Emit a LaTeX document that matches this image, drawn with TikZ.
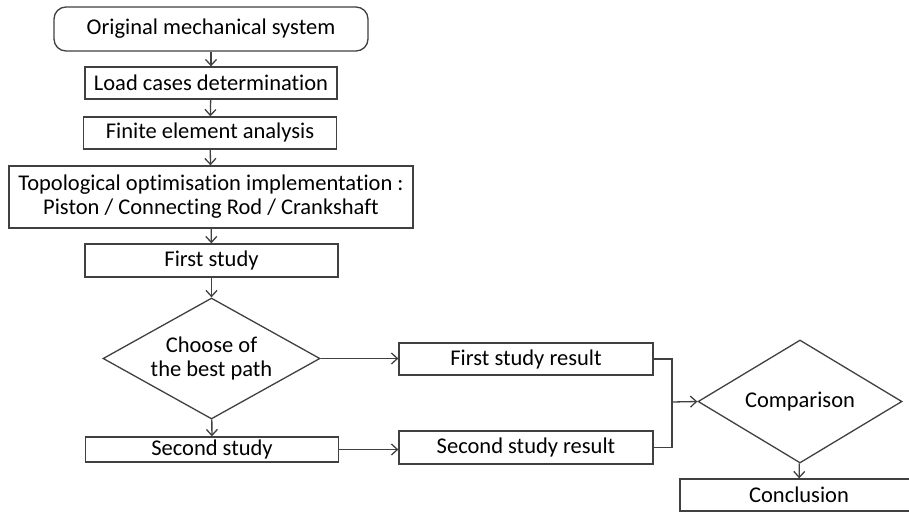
\documentclass[tikz,border=0pt]{standalone}
\usepackage{fontspec}
\setmainfont{Carlito}[Ligatures=NoCommon]
\usetikzlibrary{shapes.geometric,arrows.meta}
\definecolor{linegray}{HTML}{404040}
\tikzset{
  box/.style={draw=linegray, line width=1.3pt, fill=white, rectangle, inner sep=0pt, align=center, font=\fontsize{22.5}{24}\selectfont},
  decision/.style={draw=linegray, line width=1.3pt, fill=white, diamond, inner sep=0pt, align=center, font=\fontsize{22.5}{24}\selectfont},
  conn/.style={draw=linegray, line width=1.3pt},
  arr/.style={conn, -{Straight Barb[length=6pt,width=11pt,line width=1.3pt]}}
}
\begin{document}
\begin{tikzpicture}[x=1pt,y=-1pt]
\useasboundingbox (0,0) rectangle (909,513);
\begin{scope}
\clip (0,0) rectangle (909,513);
\node[box, rounded corners=12pt, minimum width=314pt, minimum height=44pt] (orig) at (211,29) {Original mechanical system};
\node[box, minimum width=252pt, minimum height=32pt] (load) at (211,83) {Load cases determination};
\node[box, minimum width=253pt, minimum height=32pt] (fea) at (210,133) {Finite element analysis};
\node[box, minimum width=404pt, minimum height=62pt] (topo) at (211,197) {Topological optimisation implementation :\\Piston / Connecting Rod / Crankshaft};
\node[box, minimum width=253pt, minimum height=33pt] (first) at (211.5,260.5) {First study};
\node[decision, aspect=1.79, minimum width=217pt, minimum height=121pt] (choose) at (211.5,358.5) {Choose of\\the best path};
\node[box, minimum width=253pt, minimum height=25pt] (second) at (212,449.5) {Second study};
\node[box, minimum width=254pt, minimum height=32pt] (res1) at (526,359) {First study result};
\node[box, minimum width=254pt, minimum height=33pt] (res2) at (526,447.5) {Second study result};
\node[decision, aspect=1.66, minimum width=204pt, minimum height=123pt] (comp) at (800,401.5) {Comparison};
\node[box, minimum width=238pt, minimum height=32pt] (concl) at (799,495) {Conclusion};
\coordinate (j) at (672,402);

\draw[arr] (orig) -- (load);
\draw[arr] (load) -- (fea);
\draw[arr] (fea) -- (topo);
\draw[arr] (topo) -- (first);
\draw[arr] (first) -- (choose);
\draw[arr] (choose) -- (second);
\draw[arr] (choose.east) -- (choose.east -| res1.west);
\draw[arr] (second.east) -- (second.east -| res2.west);
\draw[conn] (res1.east) -| (j);
\draw[conn] (res2.east) -| (j);
\draw[arr] (j) -- (comp.west);
\draw[arr] (comp) -- (concl);
\end{scope}
\end{tikzpicture}
\end{document}
